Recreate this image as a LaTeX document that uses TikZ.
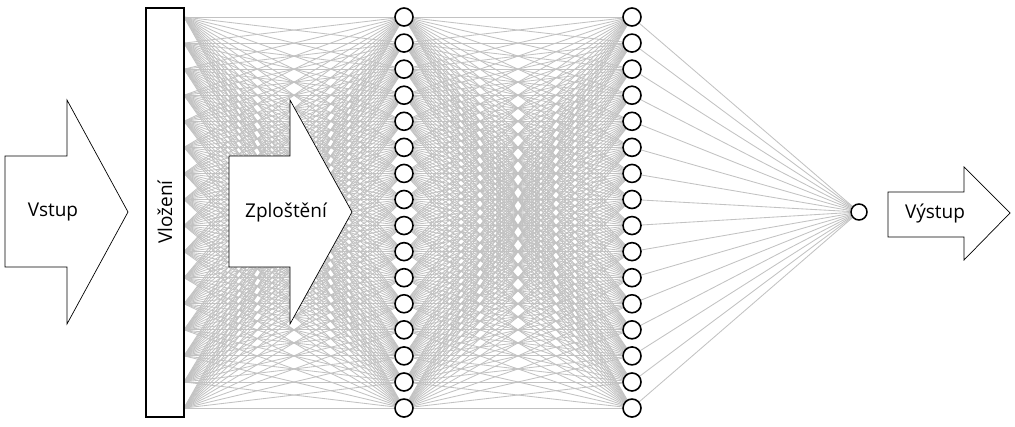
\documentclass[tikz,border=0pt]{standalone}
\usepackage{fontspec}
\setmainfont{Open Sans}
\pgfdeclarelayer{background}
\pgfsetlayers{background,main}
\begin{document}
\begin{tikzpicture}[x=1pt,y=-1pt,
  conn/.style={draw=black!24, line width=0.85pt},
  neuron/.style={circle, draw, line width=1.6pt, fill=white, minimum size=18pt, inner sep=0pt},
  outneuron/.style={circle, draw, line width=1.5pt, fill=white, minimum size=16pt, inner sep=0pt},
  bigarrow/.style={draw, line width=0.7pt, fill=white, line join=miter},
  lbl/.style={font=\fontsize{19}{21}\selectfont, inner sep=0pt},
  embbox/.style={draw, line width=1.8pt, fill=white, minimum width=38pt, minimum height=409pt, inner sep=0pt}]
\useasboundingbox (0,0) rectangle (1015,426);

\node[embbox] (emb) at (165,212.5) {};
\node[lbl, rotate=90] (embtxt) at (165,212) {Vložení};

\foreach \i in {1,...,16} {
  \pgfmathsetmacro\yy{17+(\i-1)*26.07}
  \coordinate (e\i) at (184,\yy);
  \node[neuron] (a\i) at (404,\yy) {};
  \node[neuron] (b\i) at (632,\yy) {};
}
\node[outneuron] (o) at (859,212) {};

\begin{pgfonlayer}{background}
\foreach \i in {1,...,16} {
  \foreach \j in {1,...,16} {
    \draw[conn] (e\i) -- (a\j);
    \draw[conn] (a\i) -- (b\j);
  }
  \draw[conn] (b\i) -- (o);
}
\end{pgfonlayer}

% Input arrow
\draw[bigarrow] (5,156) -- (67,156) -- (67,100) -- (128,212) -- (67,324) -- (67,267) -- (5,267) -- cycle;
\node[lbl] (vstup) at (53,212) {Vstup};

% Flatten arrow
\draw[bigarrow] (229,156) -- (290,156) -- (290,100) -- (352,212) -- (290,324) -- (290,267) -- (229,267) -- cycle;
\node[lbl] (flat) at (286,212) {Zploštění};

% Output arrow
\draw[bigarrow] (888,192) -- (964,192) -- (964,167) -- (1010,213) -- (964,260) -- (964,237) -- (888,237) -- cycle;
\node[lbl] (vystup) at (935,213) {Výstup};
\end{tikzpicture}
\end{document}
